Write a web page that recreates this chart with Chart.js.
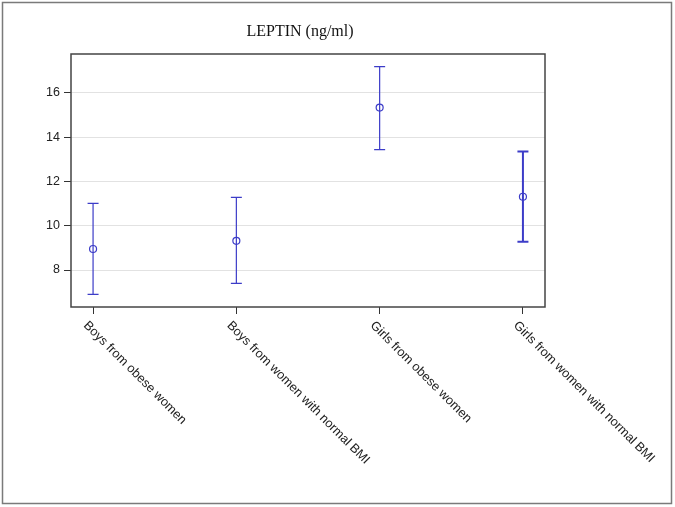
<!DOCTYPE html>
<html lang="en">
  <head>
    <meta charset="UTF-8" />
    <title>Leptin</title>
    <script src="https://cdn.jsdelivr.net/npm/chart.js@4.4.0/dist/chart.umd.min.js"></script>
    <style>
      body { margin: 0; background: #fff; }
      #wrap { width: 675px; height: 507px; }
    </style>
  </head>
  <body>
    <div id="wrap"><canvas id="leptinChart" width="675" height="507"></canvas></div>
    <script>
      // groups, means and error bar limits
      const categories = ["Boys from obese women", "Boys from women with normal BMI", "Girls from obese women", "Girls from women with normal BMI"];
      const means = [8.95, 9.32, 15.34, 11.31];
      const upper = [11.01, 11.28, 17.19, 13.35];
      const lower = [6.9, 7.4, 13.44, 9.28];
      const yTicks = [8, 10, 12, 14, 16];
      const titleText = "LEPTIN (ng/ml)";

      const blue = "#3c3cc8";
      const barWidths = [1.2, 1.2, 1.2, 2];

      const points = means.map(function (m, i) {
        return { x: i + 1, y: m };
      });

      // frame, title, plot border, error bars and slanted labels
      const extras = {
        id: "extras",
        beforeDraw: function (chart) {
          const c = chart.ctx;
          c.save();
          c.fillStyle = "#fff";
          c.fillRect(0, 0, chart.width, chart.height);
          c.strokeStyle = "#7a7a7a";
          c.lineWidth = 1.5;
          c.strokeRect(2.5, 2.5, 669, 501);

          c.fillStyle = "#111";
          c.font = "16px 'Liberation Serif', 'Times New Roman', serif";
          c.textAlign = "center";
          c.textBaseline = "middle";
          c.fillText(titleText, 300, 31.5);
          c.restore();
        },
        beforeDatasetsDraw: function (chart) {
          const c = chart.ctx;
          const x = chart.scales.x;
          const y = chart.scales.y;
          c.save();
          c.strokeStyle = blue;
          for (let i = 0; i < categories.length; i++) {
            const px = x.getPixelForValue(i + 1);
            const top = y.getPixelForValue(upper[i]);
            const bot = y.getPixelForValue(lower[i]);
            c.lineWidth = barWidths[i];
            c.beginPath();
            c.moveTo(px, top);
            c.lineTo(px, bot);
            c.moveTo(px - 5.5, top);
            c.lineTo(px + 5.5, top);
            c.moveTo(px - 5.5, bot);
            c.lineTo(px + 5.5, bot);
            c.stroke();
          }
          c.restore();
        },
        afterDraw: function (chart) {
          const c = chart.ctx;
          const a = chart.chartArea;
          const x = chart.scales.x;
          c.save();
          c.strokeStyle = "#444";
          c.lineWidth = 1.5;
          c.strokeRect(a.left, a.top, a.right - a.left, a.bottom - a.top);

          c.fillStyle = "#222";
          c.font = "12.7px 'Liberation Sans', Arial, sans-serif";
          c.textAlign = "left";
          c.textBaseline = "top";
          for (let i = 0; i < categories.length; i++) {
            const px = x.getPixelForValue(i + 1);
            c.save();
            c.translate(px - 3, a.bottom + 12);
            c.rotate(Math.PI / 4);
            c.fillText(categories[i], 0, 0);
            c.restore();
          }
          c.restore();
        },
      };

      const ctx = document.querySelector("#leptinChart").getContext("2d");
      const myChart = new Chart(ctx, {
        type: "scatter",
        data: {
          datasets: [
            {
              label: "LEPTIN",
              data: points,
              borderColor: blue,
              backgroundColor: "rgba(0,0,0,0)",
              borderWidth: 1.2,
              pointRadius: 3.5,
              pointHoverRadius: 3.5,
            },
          ],
        },
        options: {
          responsive: false,
          animation: false,
          layout: {
            padding: { left: 20, right: 130, top: 54, bottom: 190 },
          },
          plugins: {
            legend: { display: false },
            tooltip: { enabled: false },
            title: { display: false },
          },
          scales: {
            x: {
              type: "linear",
              min: 0.846,
              max: 4.154,
              afterBuildTicks: function (scale) {
                scale.ticks = categories.map(function (c, i) {
                  return { value: i + 1 };
                });
              },
              afterFit: function (scale) {
                scale.height = 10;
              },
              ticks: { display: false },
              grid: { drawOnChartArea: false, drawTicks: true, tickLength: 7, tickColor: "#333" },
              border: { display: false },
            },
            y: {
              min: 6.33,
              max: 17.76,
              afterBuildTicks: function (scale) {
                scale.ticks = yTicks.map(function (v) {
                  return { value: v };
                });
              },
              afterFit: function (scale) {
                scale.width = 51;
              },
              ticks: {
                color: "#222",
                padding: 4,
                font: { family: "'Liberation Sans', Arial, sans-serif", size: 12.5 },
              },
              grid: { color: "#e2e2e2", lineWidth: 1, tickLength: 7, tickColor: "#333" },
              border: { display: false },
            },
          },
        },
        plugins: [extras],
      });
    </script>
  </body>
</html>
